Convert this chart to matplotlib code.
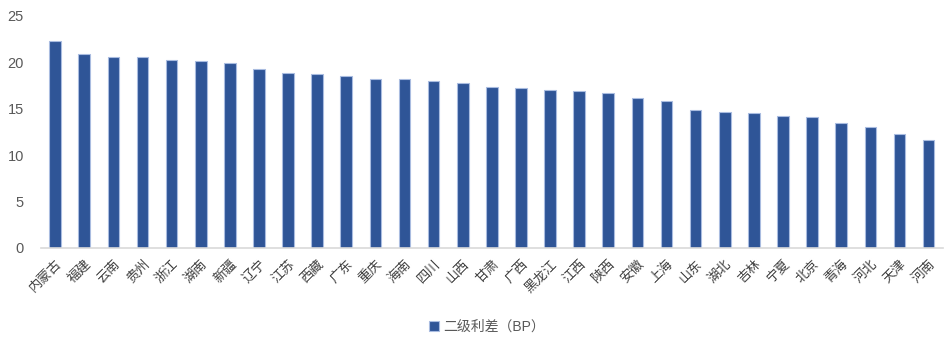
import matplotlib
matplotlib.use("Agg")
from matplotlib import pyplot as plt
import numpy as np

plt.rcParams['font.family'] = ['Liberation Sans', 'Noto Sans CJK SC', 'DejaVu Sans']

provinces = ['内蒙古', '福建', '云南', '贵州', '浙江', '湖南', '新疆', '辽宁', '江苏', '西藏',
             '广东', '重庆', '海南', '四川', '山西', '甘肃', '广西', '黑龙江', '江西', '陕西',
             '安徽', '上海', '山东', '湖北', '吉林', '宁夏', '北京', '青海', '河北', '天津', '河南']
spread_bp = [22.3, 20.9, 20.6, 20.55, 20.25, 20.15, 19.9, 19.3, 18.85, 18.7,
             18.55, 18.25, 18.2, 17.95, 17.8, 17.3, 17.25, 17.0, 16.95, 16.75,
             16.2, 15.8, 14.9, 14.6, 14.5, 14.2, 14.1, 13.5, 13.0, 12.3, 11.6]
yticks = [0, 5, 10, 15, 20, 25]
series_label = '二级利差（BP）'

fig = plt.figure(figsize=(9.45, 3.4), dpi=100)
ax = fig.add_axes([0.043, 0.271, 0.955, 0.682])

x = np.arange(len(provinces))
ax.bar(x, spread_bp, width=0.4, color='#2F5597', edgecolor='#A9BCE0',
       linewidth=0.8, label=series_label, zorder=2)

ax.set_xlim(-0.5, len(provinces) - 0.5)
ax.set_ylim(0, 25)
ax.set_yticks(yticks)
ax.tick_params(axis='y', length=0, labelsize=10.5, colors='#595959', pad=12)
ax.set_xticks(x)
ax.set_xticklabels(provinces, rotation=45, ha='right', rotation_mode='anchor',
                   fontsize=9.5, color='#404040', family=['Noto Sans CJK SC'])
ax.tick_params(axis='x', length=0, pad=7)

for side in ['top', 'right', 'left']:
    ax.spines[side].set_visible(False)
ax.spines['bottom'].set_color('#D9D9D9')
ax.spines['bottom'].set_linewidth(1.2)

fig.legend(loc='center', bbox_to_anchor=(0.515, 0.038), frameon=False,
           fontsize=10, handlelength=0.7, handleheight=0.7, handletextpad=0.3,
           labelcolor='#595959')

fig.savefig('out.png', dpi=100)
